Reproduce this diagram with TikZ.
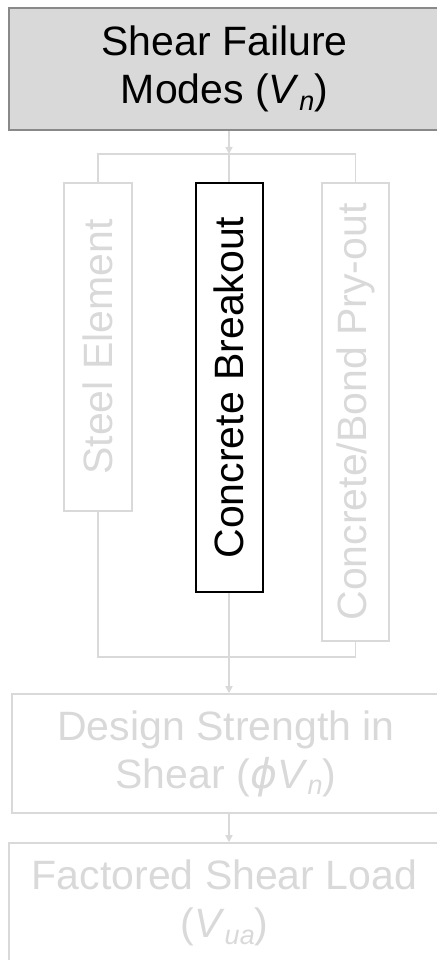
\documentclass[tikz,border=0pt]{standalone}
\usepackage{fontspec}
\setmainfont{Liberation Sans}
\newfontfamily\phifont{DejaVu Sans}
\usetikzlibrary{arrows.meta}
\definecolor{faded}{RGB}{217,217,217}
\definecolor{framegray}{RGB}{137,137,137}
\definecolor{boxfill}{RGB}{217,217,217}
\newcommand{\lowsub}[1]{\raisebox{-.3ex}{\fontsize{27}{27}\selectfont\itshape #1}}

\begin{document}
\begin{tikzpicture}[x=1pt,y=1pt,
    box/.style={draw=faded,line width=1.5pt,text=faded,align=center,inner sep=0pt,
      font=\fontsize{41}{48}\selectfont},
    modebox/.style={box,rotate=90},
    link/.style={draw=faded,line width=1.5pt},
    tip/.style={-{Triangle[width=7pt,length=7pt]}}]
  \useasboundingbox (0,0) rectangle (436,960);
  \node[box,draw=framegray,line width=2.5pt,fill=boxfill,text=black,
    minimum width=431pt,minimum height=122pt] (modes) at (224.5,891)
    {Shear Failure\\Modes (\textit{V}\lowsub{n})};
  % rotated boxes: east is the top end, west the bottom end
  \node[modebox,minimum width=328pt,minimum height=68pt] (steel) at (98,613) {Steel Element};
  \node[modebox,draw=black,line width=2pt,text=black,minimum width=409pt,
    minimum height=67pt] (breakout) at (229,572.5) {Concrete Breakout};
  \node[modebox,minimum width=458pt,minimum height=67pt] (pryout) at (355.5,548)
    {Concrete/Bond Pry-out};
  \node[box,minimum width=428pt,minimum height=119pt] (strength) at (226,206.5)
    {Design Strength in\\Shear ({\phifont\itshape ϕ}\textit{V}\lowsub{n})};
  \node[box,minimum width=431pt,minimum height=120pt] (load) at (224.5,57)
    {Factored Shear Load\\(\textit{V}\lowsub{ua})};
  \coordinate (split) at (229,806);
  \coordinate (merge) at (229,303);
  \draw[link,tip] (modes.south -| split) -- (split);
  \draw[link] (steel.east) |- (split) -| (pryout.east);
  \draw[link] (split) -- (breakout.east);
  \draw[link] (steel.west) |- (merge) -| (pryout.west);
  \draw[link,tip] (breakout.west) -- (strength.north -| breakout);
  \draw[link,tip] (strength.south -| breakout) -- (load.north -| breakout);
\end{tikzpicture}
\end{document}
